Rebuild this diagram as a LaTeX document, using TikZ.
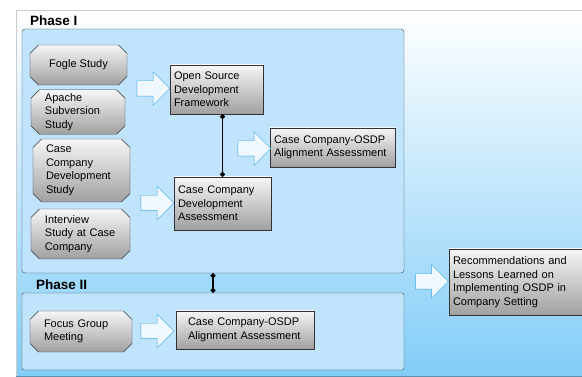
\documentclass[tikz,border=0pt]{standalone}
\usepackage{fontspec}
\setmainfont{Liberation Sans}
\usetikzlibrary{arrows.meta, shapes.misc, shapes.arrows}

\definecolor{bgblue}{RGB}{130,205,248}
\definecolor{phasefill}{RGB}{191,228,252}
\definecolor{phaseline}{RGB}{60,74,88}
\definecolor{arrowfill}{RGB}{238,248,254}
\definecolor{arrowline}{RGB}{59,167,230}
\definecolor{nodetop}{RGB}{246,246,246}
\definecolor{nodebot}{RGB}{160,160,160}
\definecolor{nodeline}{RGB}{50,50,50}

\tikzset{
  study/.style={chamfered rectangle, chamfered rectangle xsep=5pt, draw=nodeline,
    top color=nodetop, bottom color=nodebot, align=left, inner sep=0pt,
    font=\fontsize{11}{13.6}\selectfont},
  result/.style={rectangle, draw=nodeline, top color=nodetop, bottom color=nodebot,
    align=left, inner sep=0pt, font=\fontsize{11}{13.6}\selectfont},
  bigarrow/.style={single arrow, draw=arrowline, fill=arrowfill, minimum height=33pt,
    single arrow head extend=9pt, inner xsep=0pt, inner ysep=7.5pt},
  phase/.style={rectangle, draw=phaseline, fill=phasefill, rounded corners=3pt, inner sep=0pt},
  phaselabel/.style={anchor=base west, inner sep=0pt, font=\fontsize{13.5}{16}\selectfont\bfseries},
  link/.style={{Circle[length=5pt]}-{Circle[length=5pt]}, line width=1.1pt}
}

\begin{document}
\begin{tikzpicture}[x=1pt, y=-1pt]
\useasboundingbox (0,0) rectangle (582,377);

% Background panel
\fill[top color=white, bottom color=bgblue] (16,10) rectangle (582,377);
\draw[black!20] (16,377) -- (16,10) -- (582,10);
\draw[bgblue!70!black, line width=1pt] (16,376.5) -- (582,376.5);

% Phase boxes
\node[phase, minimum width=382, minimum height=244] (phaseI) at (213,151) {};
\node[phase, minimum width=382, minimum height=77, rounded corners=2pt] (phaseII) at (213,331.5) {};
\node[phaselabel] (lblI) at (30,26) {Phase I};
\node[phaselabel] (lblII) at (36,290) {Phase II};

% Studies of phase I
\node[study, align=center, minimum width=97, minimum height=40] (fogle) at (78.5,65) {Fogle Study};
\node[study, text width=66, minimum width=94, minimum height=40] (apache) at (78,112) {Apache\\Subversion\\Study};
\node[study, text width=71, minimum width=97, minimum height=63] (ccds) at (81.5,170.5) {Case\\Company\\Development\\Study};
\node[study, text width=71, minimum width=99, minimum height=50] (interview) at (80.5,234) {Interview\\Study at Case\\Company};

% Results of phase I
\node[result, text width=85, minimum width=93, minimum height=49] (osdf) at (216.5,89.5) {Open Source\\Development\\Framework};
\node[result, text width=89, minimum width=97, minimum height=53] (ccda) at (222.5,203.5) {Case Company\\Development\\Assessment};
\node[result, text width=117, minimum width=125, minimum height=39] (align1) at (332.5,147.5) {Case Company-OSDP\\Alignment Assessment};

% Phase II
\node[study, text width=74, minimum width=102, minimum height=41] (focus) at (81,331.5) {Focus Group\\Meeting};
\node[result, text width=114, minimum width=138, minimum height=38] (align2) at (245,330) {Case Company-OSDP\\Alignment Assessment};

% Outcome
\node[result, text width=142, minimum width=150, minimum height=66] (recom) at (524,282) {Recommendations and\\Lessons Learned on\\Implementing OSDP in\\Company Setting};

% Block arrows
\node[bigarrow] (a1) at (149.5,88.5) {};
\node[bigarrow] (a2) at (250.5,148.5) {};
\node[bigarrow] (a3) at (153.5,203) {};
\node[bigarrow] (a4) at (153.5,331) {};
\node[bigarrow] (a5) at (428,281.5) {};

% Links
\draw[link] (osdf.south -| ccda.north) -- (ccda.north);
\draw[link] (phaseI.south) -- (phaseII.north);
\end{tikzpicture}
\end{document}
